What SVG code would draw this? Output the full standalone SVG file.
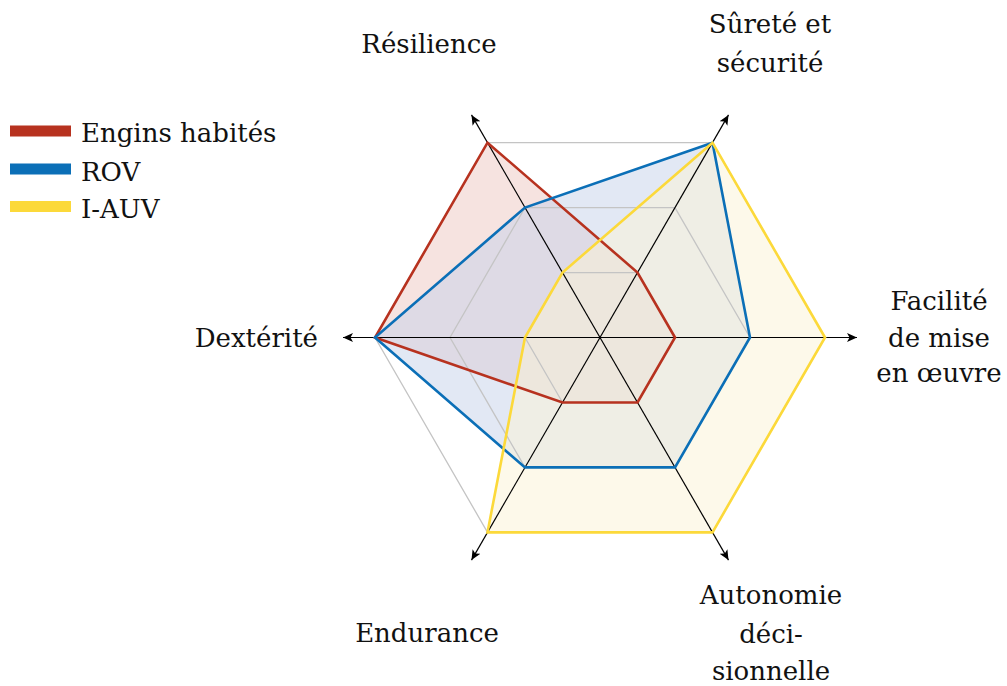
<svg xmlns="http://www.w3.org/2000/svg" width="1007" height="686" viewBox="0 0 1007 686">
<style>
text{font-family:"DejaVu Serif","Liberation Serif",serif;font-size:26px;fill:#111}
.c{text-anchor:middle}
.grid{fill:none;stroke:#c4c4c4;stroke-width:1.3}
.axis{stroke:#000;stroke-width:1.2;marker-end:url(#arr)}
.red{stroke:#b7321f}
.blue{stroke:#0b6fb7}
.yel{stroke:#fcd93a}
.data{stroke-width:2.6;stroke-linejoin:miter;fill:none}
.leg{stroke-width:11}
.f{fill-opacity:0.5}
</style>
<defs>
<marker id="arr" markerUnits="userSpaceOnUse" markerWidth="14" markerHeight="12" refX="10" refY="6" orient="auto" viewBox="0 0 14 12">
<path d="M10,6 L0,1.5 L2.5,6 L0,10.5 Z" fill="#000"/>
</marker>
</defs>
<rect width="1007" height="686" fill="#fff"/>
<g id="fills">
<polygon class="f" points="675,337.5 637.5,272.55 487.5,142.65 375,337.5 562.5,402.45 637.5,402.45" fill="#edc7c1"/>
<polygon class="f" points="750,337.5 712.5,142.65 525,207.6 375,337.5 525,467.4 675,467.4" fill="#c5d1e9"/>
<polygon class="f" points="825,337.5 712.5,142.65 562.5,272.55 525,337.5 487.5,532.35 712.5,532.35" fill="#fbf3d5"/>
</g>
<g id="grid">
<polygon class="grid" points="675,337.5 637.5,272.55 562.5,272.55 525,337.5 562.5,402.45 637.5,402.45"/>
<polygon class="grid" points="750,337.5 675,207.6 525,207.6 450,337.5 525,467.4 675,467.4"/>
<polygon class="grid" points="825,337.5 712.5,142.65 487.5,142.65 375,337.5 487.5,532.35 712.5,532.35"/>
</g>
<g id="connectors">
<line class="axis" x1="600" y1="337.5" x2="857" y2="337.5"/>
<line class="axis" x1="600" y1="337.5" x2="343" y2="337.5"/>
<line class="axis" x1="600" y1="337.5" x2="728.5" y2="114.9"/>
<line class="axis" x1="600" y1="337.5" x2="471.5" y2="114.9"/>
<line class="axis" x1="600" y1="337.5" x2="471.5" y2="560.1"/>
<line class="axis" x1="600" y1="337.5" x2="728.5" y2="560.1"/>
</g>
<g id="series">
<polygon class="data red" points="675,337.5 637.5,272.55 487.5,142.65 375,337.5 562.5,402.45 637.5,402.45"/>
<polygon class="data blue" points="750,337.5 712.5,142.65 525,207.6 375,337.5 525,467.4 675,467.4"/>
<polygon class="data yel" points="825,337.5 712.5,142.65 562.5,272.55 525,337.5 487.5,532.35 712.5,532.35"/>
</g>
<g id="label-resilience"><text class="c" x="429" y="53">Résilience</text></g>
<g id="label-surete"><text class="c" x="770" y="33">Sûreté et</text><text class="c" x="770" y="72">sécurité</text></g>
<g id="label-facilite"><text class="c" x="939" y="310">Facilité</text><text class="c" x="939" y="347">de mise</text><text class="c" x="939" y="382">en œuvre</text></g>
<g id="label-autonomie"><text class="c" x="771" y="604">Autonomie</text><text class="c" x="771" y="643">déci-</text><text class="c" x="771" y="680">sionnelle</text></g>
<g id="label-endurance"><text class="c" x="427" y="642">Endurance</text></g>
<g id="label-dexterite"><text x="318" y="347" text-anchor="end">Dextérité</text></g>
<g id="legend">
<line class="leg red" x1="10" y1="131" x2="71" y2="131"/>
<text x="81" y="142">Engins habités</text>
<line class="leg blue" x1="10" y1="169" x2="71" y2="169"/>
<text x="81" y="181">ROV</text>
<line class="leg yel" x1="10" y1="206.5" x2="71" y2="206.5"/>
<text x="81" y="218">I-AUV</text>
</g>
</svg>
